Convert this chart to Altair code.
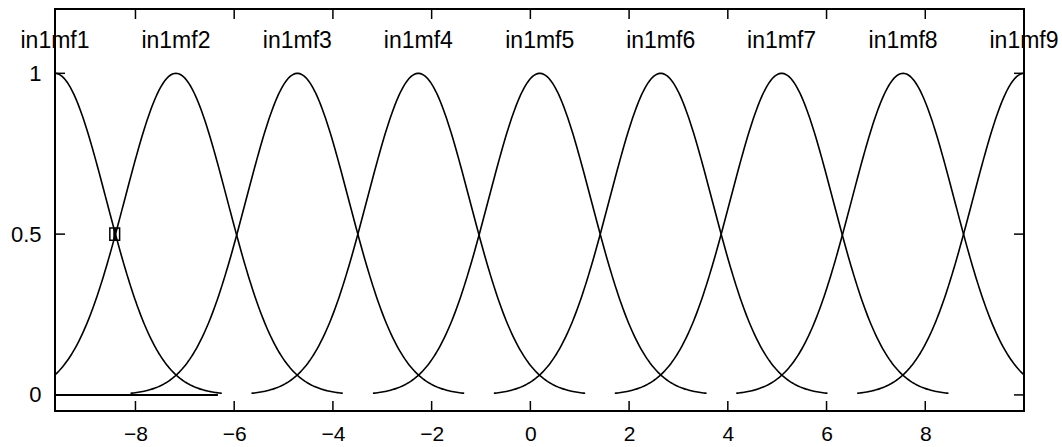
import numpy as np
import pandas as pd
import altair as alt

# Input range and Gaussian membership functions of input 1
x_min, x_max = -9.63, 10.0
mf_names = ["in1mf1", "in1mf2", "in1mf3", "in1mf4", "in1mf5",
            "in1mf6", "in1mf7", "in1mf8", "in1mf9"]
mf_centers = [-9.63, -7.18, -4.72, -2.27, 0.19, 2.64, 5.09, 7.55, 10.0]
mf_sigma = 1.04
mf_halfspan = 3.38          # each curve is drawn over center +/- this span

# Flat segment along zero at the left end of the range
base_x = [-9.63, -6.33]
base_y = [0.0, 0.0]

# Marker at the in1mf1 / in1mf2 crossing
marker_x = [-8.42]
marker_y = [0.5]

x_ticks = [-8, -6, -4, -2, 0, 2, 4, 6, 8]
y_ticks = [0, 0.5, 1]
label_y = 1.1

W, H = 969, 402
FONT = "Liberation Sans"

rows = []
for name, c in zip(mf_names, mf_centers):
    lo = max(x_min, c - mf_halfspan)
    hi = min(x_max, c + mf_halfspan)
    for xv in np.linspace(lo, hi, 220):
        rows.append({"mf": name, "x": xv,
                     "y": float(np.exp(-((xv - c) ** 2) / (2 * mf_sigma ** 2)))})
curves = pd.DataFrame(rows)
labels = pd.DataFrame({"mf": mf_names, "x": mf_centers, "y": [label_y] * len(mf_names)})
base = pd.DataFrame({"x": base_x, "y": base_y})
marker = pd.DataFrame({"x": marker_x, "y": marker_y})
xt = pd.DataFrame({"t": x_ticks})
yt = pd.DataFrame({"t": y_ticks})

xs = alt.Scale(domain=[x_min, x_max], nice=False, zero=False)
ys = alt.Scale(domain=[-0.05, 1.2], nice=False, zero=False)

x_axis = alt.Axis(values=x_ticks, ticks=False, grid=False, title=None,
                  labelFontSize=21, labelFont=FONT, labelColor="black",
                  labelPadding=12, domain=False)
y_axis = alt.Axis(values=y_ticks, ticks=False, grid=False, title=None,
                  format=".1~f", labelFontSize=22, labelFont=FONT,
                  labelColor="black", labelPadding=14, domain=False)

lines = alt.Chart(curves).mark_line(color="black", strokeWidth=1.6, clip=True).encode(
    x=alt.X("x:Q", scale=xs, axis=x_axis),
    y=alt.Y("y:Q", scale=ys, axis=y_axis),
    detail="mf:N",
    order="x:Q",
)

baseline = alt.Chart(base).mark_line(color="black", strokeWidth=2).encode(
    x=alt.X("x:Q", scale=xs), y=alt.Y("y:Q", scale=ys)
)

marks = alt.Chart(marker).mark_point(
    shape="M-0.8,-1 L-0.12,-1 L-0.12,1 L-0.8,1 Z M0.12,-1 L0.8,-1 L0.8,1 L0.12,1 Z",
    size=150, filled=False, color="black", strokeWidth=1.5, opacity=1,
).encode(x=alt.X("x:Q", scale=xs), y=alt.Y("y:Q", scale=ys))

text = alt.Chart(labels).mark_text(
    fontSize=23, font=FONT, color="black", align="center", baseline="middle"
).encode(x=alt.X("x:Q", scale=xs), y=alt.Y("y:Q", scale=ys), text="mf:N")

# Inward ticks on all four sides of the box
tick_len = 10
bottom_ticks = alt.Chart(xt).mark_rule(color="black", strokeWidth=1.5).encode(
    x=alt.X("t:Q", scale=xs), y=alt.value(H), y2=alt.value(H - tick_len))
top_ticks = alt.Chart(xt).mark_rule(color="black", strokeWidth=1.5).encode(
    x=alt.X("t:Q", scale=xs), y=alt.value(0), y2=alt.value(tick_len))
left_ticks = alt.Chart(yt).mark_rule(color="black", strokeWidth=1.5).encode(
    y=alt.Y("t:Q", scale=ys), x=alt.value(0), x2=alt.value(tick_len))
right_ticks = alt.Chart(yt).mark_rule(color="black", strokeWidth=1.5).encode(
    y=alt.Y("t:Q", scale=ys), x=alt.value(W), x2=alt.value(W - tick_len))

chart = alt.layer(
    lines, baseline, marks, text, bottom_ticks, top_ticks, left_ticks, right_ticks
).properties(
    width=W, height=H,
    autosize=alt.AutoSizeParams(type="none"),
    padding={"left": 55, "top": 9, "right": 38, "bottom": 36},
    background="white",
).configure_view(
    stroke="black", strokeWidth=2
)

chart.save("out.html", embed_options={"renderer": "svg", "actions": False})
